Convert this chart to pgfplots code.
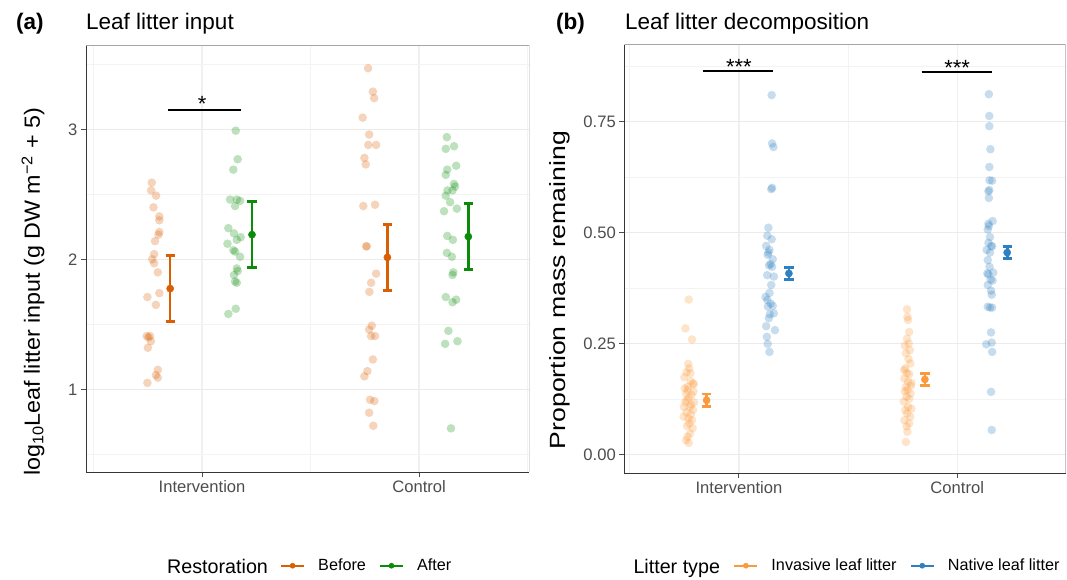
\documentclass[border=0pt]{standalone}
\usepackage{fontspec}
\setmainfont{Liberation Sans}
\usepackage{pgfplots}
\usepackage{pgfplotstable}
\pgfplotsset{compat=1.18}
\definecolor{cBefore}{HTML}{D95F02}
\definecolor{cAfter}{HTML}{0A8C0A}
\definecolor{cInv}{HTML}{FB9A3C}
\definecolor{cNat}{HTML}{2F80C0}
\definecolor{cGridMaj}{HTML}{EBEBEB}
\definecolor{cGridMajX}{HTML}{F0F0F0}
\definecolor{cGridMin}{HTML}{F3F3F3}
\definecolor{cTick}{HTML}{4D4D4D}

% ---------- panel (a): leaf litter input ----------
\pgfplotstableread{
x y
0.768 2.59
0.765 2.53
0.788 2.49
0.776 2.40
0.803 2.33
0.803 2.30
0.803 2.21
0.799 2.19
0.783 2.14
0.779 2.04
0.770 2.00
0.779 1.97
0.796 1.90
0.803 1.74
0.748 1.71
0.787 1.65
0.745 1.41
0.760 1.41
0.753 1.40
0.764 1.37
0.750 1.32
0.796 1.15
0.787 1.11
0.796 1.09
0.748 1.05
1.765 3.47
1.787 3.29
1.793 3.24
1.740 3.09
1.770 2.96
1.766 2.88
1.802 2.88
1.748 2.78
1.754 2.73
1.743 2.41
1.797 2.42
1.756 2.10
1.759 2.10
1.802 1.89
1.779 1.82
1.771 1.75
1.782 1.49
1.770 1.46
1.779 1.41
1.797 1.41
1.787 1.23
1.762 1.14
1.748 1.10
1.774 0.92
1.794 0.91
1.770 0.82
1.789 0.72
}\beforepts
\pgfplotstableread{
x y
1.155 2.99
1.164 2.77
1.144 2.69
1.129 2.46
1.160 2.46
1.175 2.45
1.152 2.41
1.121 2.24
1.147 2.20
1.178 2.17
1.160 2.15
1.117 2.12
1.144 2.07
1.152 2.06
1.175 2.02
1.160 1.93
1.164 1.91
1.147 1.88
1.152 1.83
1.160 1.82
1.155 1.62
1.121 1.58
2.128 2.94
2.123 2.85
2.161 2.87
2.171 2.72
2.130 2.69
2.123 2.65
2.161 2.58
2.166 2.56
2.131 2.53
2.154 2.53
2.123 2.49
2.143 2.44
2.174 2.39
2.115 2.37
2.130 2.18
2.156 2.15
2.128 2.05
2.151 2.02
2.158 1.90
2.154 1.88
2.123 1.71
2.171 1.69
2.154 1.67
2.135 1.45
2.120 1.35
2.177 1.37
2.147 0.70
}\afterpts
\pgfplotstableread{
x y err
0.853 1.775 0.255
1.854 2.015 0.255
}\beforemean
\pgfplotstableread{
x y err
1.230 2.190 0.255
2.227 2.175 0.255
}\aftermean

% ---------- panel (b): leaf litter decomposition ----------
\pgfplotstableread{
x y
0.770 0.349
0.755 0.284
0.785 0.259
0.768 0.204
0.772 0.194
0.760 0.185
0.778 0.183
0.750 0.174
0.790 0.160
0.793 0.158
0.752 0.149
0.765 0.145
0.758 0.137
0.783 0.134
0.770 0.128
0.762 0.122
0.795 0.117
0.748 0.107
0.775 0.107
0.790 0.100
0.760 0.095
0.780 0.090
0.747 0.085
0.768 0.081
0.785 0.077
0.773 0.070
0.762 0.064
0.788 0.059
0.776 0.047
0.765 0.040
0.758 0.032
0.770 0.026
0.781 0.112
0.754 0.118
0.792 0.142
0.766 0.153
0.779 0.165
1.770 0.327
1.772 0.310
1.775 0.303
1.780 0.276
1.770 0.261
1.778 0.250
1.760 0.245
1.783 0.235
1.765 0.228
1.785 0.205
1.762 0.194
1.770 0.183
1.780 0.181
1.758 0.171
1.775 0.164
1.790 0.161
1.765 0.152
1.772 0.145
1.760 0.142
1.786 0.137
1.768 0.130
1.780 0.125
1.755 0.119
1.775 0.107
1.790 0.103
1.762 0.100
1.770 0.092
1.785 0.085
1.758 0.077
1.780 0.070
1.768 0.063
1.772 0.051
1.765 0.028
1.788 0.155
1.757 0.190
1.777 0.215
}\invpts
\pgfplotstableread{
x y
1.150 0.810
1.152 0.701
1.158 0.693
1.152 0.601
1.148 0.598
1.135 0.511
1.130 0.493
1.150 0.485
1.140 0.461
1.135 0.455
1.132 0.450
1.145 0.429
1.138 0.426
1.152 0.423
1.130 0.404
1.160 0.401
1.148 0.382
1.140 0.364
1.122 0.355
1.130 0.348
1.145 0.340
1.155 0.335
1.133 0.333
1.160 0.318
1.142 0.316
1.137 0.307
1.125 0.289
1.165 0.280
1.128 0.265
1.132 0.249
1.140 0.231
1.155 0.440
1.125 0.470
2.145 0.812
2.147 0.763
2.147 0.740
2.152 0.688
2.147 0.648
2.148 0.618
2.160 0.617
2.147 0.596
2.143 0.593
2.145 0.578
2.162 0.526
2.143 0.520
2.145 0.515
2.140 0.507
2.150 0.490
2.143 0.477
2.155 0.470
2.160 0.469
2.135 0.461
2.150 0.455
2.140 0.438
2.148 0.423
2.165 0.410
2.138 0.408
2.143 0.406
2.153 0.394
2.162 0.392
2.140 0.382
2.155 0.369
2.158 0.360
2.140 0.333
2.150 0.331
2.160 0.331
2.155 0.275
2.158 0.252
2.133 0.248
2.160 0.231
2.155 0.141
2.158 0.055
}\natpts
\pgfplotstableread{
x y err
0.852 0.122 0.014
1.852 0.169 0.0135
}\invmean
\pgfplotstableread{
x y err
1.229 0.408 0.014
2.229 0.455 0.0135
}\natmean

\pgfplotsset{
  panel/.style={
    scale only axis,
    axis x line*=bottom, axis y line*=left,
    axis line style={color=cTick!70!black, line width=1pt},
    xtick={1,2}, xticklabels={Intervention,Control},
    minor xtick={0.5,1.5,2.5},
    grid=both,
    major grid style={cGridMaj, line width=1.3pt},
    major x grid style={cGridMajX, line width=1.2pt},
    minor grid style={cGridMin, line width=0.8pt},
    tick align=outside, major tick length=5pt, minor tick length=0pt,
    tick style={color=cTick, line width=1pt},
    ticklabel style={font=\fontsize{16.6}{18}\selectfont, color=cTick},
    /pgf/number format/assume math mode=true,
    legend columns=-1,
    legend style={draw=none, fill=none, inner sep=0pt, outer sep=0pt,
      font=\fontsize{16.2}{18}\selectfont, anchor=west,
      nodes={inner sep=0pt},
      /tikz/every odd column/.append style={column sep=13pt},
      /tikz/every even column/.append style={column sep=13pt}},
    legend cell align=left,
    legend image code/.code={\draw[line width=2.2pt] (0pt,0pt) -- (23pt,0pt);
      \fill (11.5pt,0pt) circle (2.6pt);},
  },
  pts/.style={only marks, mark=*, mark size=4.3pt,
    mark options={draw opacity=0, fill=#1, fill opacity=0.27}, forget plot},
  mean/.style={color=#1, only marks, mark=*, mark size=3.6pt,
    error bars/.cd, y dir=both, y explicit,
    error bar style={line width=2.6pt, color=#1},
    error mark options={rotate=90, mark size=4.6pt, line width=2.6pt, color=#1}},
}

\begin{document}
\begin{tikzpicture}
\path[use as bounding box] (0pt,0pt) rectangle (1067pt,579pt);

% ---------------- (a) ----------------
\begin{axis}[panel,
  at={(86pt,106.7pt)}, anchor=south west,
  width=443.3pt, height=426.3pt,
  xmin=0.465, xmax=2.508, ymin=0.362, ymax=3.641,
  ytick={1,2,3}, yticklabels={1,2,3},
  minor ytick={0.5,1.5,2.5,3.5},
  legend style={at={(axis description cs:0.4376,-0.2191)}},
]
\addplot[pts=cBefore] table[x=x,y=y] {\beforepts};
\addplot[pts=cAfter] table[x=x,y=y] {\afterpts};
\addplot[mean=cBefore] table[x=x,y=y,y error=err] {\beforemean};
\addlegendentry{Before}
\addplot[mean=cAfter] table[x=x,y=y,y error=err] {\aftermean};
\addlegendentry{After}
\addplot[black, line width=1.6pt, forget plot] coordinates {(0.842,3.15) (1.178,3.15)};
\node[anchor=base, inner sep=0pt, font=\fontsize{22}{22}\selectfont] at (axis cs:1.0,3.14) {*};
\draw[color=gray!70, line width=1pt] (rel axis cs:0,1) -- (rel axis cs:1,1) -- (rel axis cs:1,0);
\end{axis}

% ---------------- (b) ----------------
\begin{axis}[panel,
  at={(624.3pt,106pt)}, anchor=south west,
  width=441.4pt, height=428pt,
  xmin=0.475, xmax=2.497, ymin=-0.042, ymax=0.923,
  ytick={0,0.25,0.5,0.75}, yticklabels={0.00,0.25,0.50,0.75},
  minor ytick={0.125,0.375,0.625,0.875},
  legend style={at={(axis description cs:0.2469,-0.2166)}},
]
\addplot[pts=cInv] table[x=x,y=y] {\invpts};
\addplot[pts=cNat] table[x=x,y=y] {\natpts};
\addplot[mean=cInv] table[x=x,y=y,y error=err] {\invmean};
\addlegendentry{Invasive leaf litter}
\addplot[mean=cNat] table[x=x,y=y,y error=err] {\natmean};
\addlegendentry{Native leaf litter}
\addplot[black, line width=1.6pt, forget plot] coordinates {(0.836,0.864) (1.154,0.864)};
\addplot[black, line width=1.6pt, forget plot] coordinates {(1.837,0.862) (2.158,0.862)};
\node[anchor=base, inner sep=0pt, font=\fontsize{22}{22}\selectfont] at (axis cs:1.0,0.857) {***};
\node[anchor=base, inner sep=0pt, font=\fontsize{22}{22}\selectfont] at (axis cs:2.0,0.855) {***};
\draw[color=gray!70, line width=1pt] (rel axis cs:0,1) -- (rel axis cs:1,1) -- (rel axis cs:1,0);
\end{axis}

% ---------------- titles, axis titles, legend titles ----------------
\node[anchor=base west, inner sep=0pt, font=\bfseries\fontsize{22.5}{24}\selectfont] at (16pt,549.7pt) {(a)};
\node[anchor=base west, inner sep=0pt, font=\fontsize{22.5}{24}\selectfont] at (86pt,549.7pt) {Leaf litter input};
\node[anchor=base west, inner sep=0pt, font=\bfseries\fontsize{22.5}{24}\selectfont] at (556pt,549.7pt) {(b)};
\node[anchor=base west, inner sep=0pt, font=\fontsize{22.5}{24}\selectfont] at (625pt,549.7pt) {Leaf litter decomposition};

\node[rotate=90, xscale=1.06, inner sep=0pt, font=\fontsize{22}{24}\selectfont] at (33pt,287pt)
  {log\textsubscript{10}Leaf litter input (g DW m\textsuperscript{−2} + 5)};
\node[rotate=90, xscale=1.21, inner sep=0pt, font=\fontsize{22}{24}\selectfont] at (560pt,289pt)
  {Proportion mass remaining};

\node[anchor=base west, inner sep=0pt, font=\fontsize{19.7}{22}\selectfont] at (167pt,5.7pt) {Restoration};
\node[anchor=base west, inner sep=0pt, font=\fontsize{19.7}{22}\selectfont] at (633.3pt,5.7pt) {Litter type};
\end{tikzpicture}
\end{document}
